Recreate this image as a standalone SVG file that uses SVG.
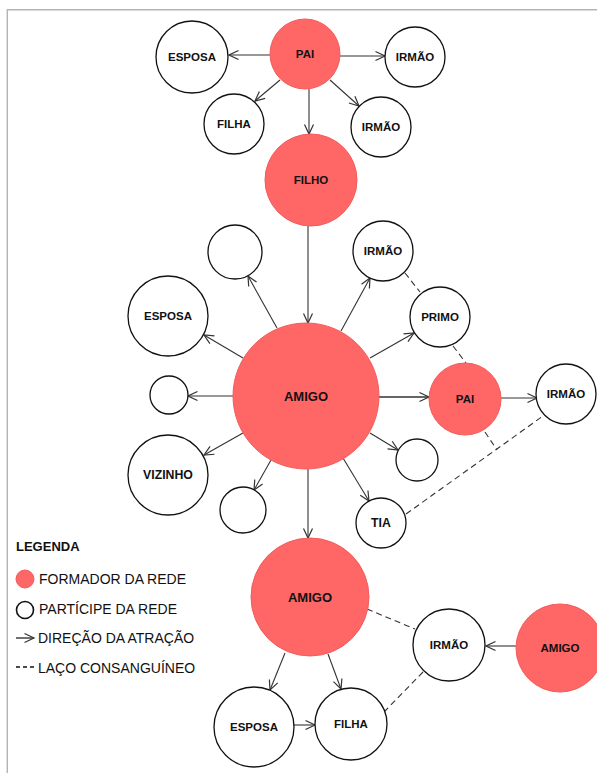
<svg xmlns="http://www.w3.org/2000/svg" width="597" height="773" viewBox="0 0 597 773">
<style>
.bg{fill:#ffffff}
.frame{stroke:#b4b4b4;stroke-width:1.4;fill:none}
.red{fill:#ff6666;stroke:#f25c5c;stroke-width:1}
.white{fill:#ffffff;stroke:#111111;stroke-width:1.3}
.lbl{font-family:"Liberation Sans",Arial,sans-serif;font-weight:bold;font-size:11.5px;fill:#111111;text-anchor:middle;dominant-baseline:central}
.big{font-size:13px}
.arr{stroke:#333333;stroke-width:1.1;fill:none;marker-end:url(#ah)}
.dash{stroke:#333333;stroke-width:1.1;fill:none;stroke-dasharray:6,4}
.leg{font-family:"Liberation Sans",Arial,sans-serif;font-size:14px;fill:#111111}
.legh{font-family:"Liberation Sans",Arial,sans-serif;font-size:13px;font-weight:bold;fill:#111111}
</style>
<defs>
<marker id="ah" markerUnits="userSpaceOnUse" viewBox="-1 -6 12 12" refX="9.5" refY="0" markerWidth="12" markerHeight="12" orient="auto">
<path d="M0,-4.5 L9.5,0 L0,4.5" fill="none" stroke="#333333" stroke-width="1.2"/>
</marker>
</defs>
<rect class="bg" x="0" y="0" width="597" height="773"/>
<path class="frame" d="M7.3,773 V9.7 H597"/>

<g id="connectors">
<line class="arr" x1="270" y1="55" x2="229" y2="55"/>
<line class="arr" x1="340" y1="56" x2="385" y2="56"/>
<line class="arr" x1="280" y1="80" x2="255" y2="101"/>
<line class="arr" x1="309" y1="89" x2="309" y2="134"/>
<line class="arr" x1="330" y1="80" x2="359" y2="106"/>
<line class="arr" x1="308" y1="226" x2="308" y2="323"/>
<line class="arr" x1="277" y1="328" x2="248" y2="276"/>
<line class="arr" x1="341" y1="331" x2="370" y2="278"/>
<line class="arr" x1="243" y1="358" x2="204" y2="335"/>
<line class="arr" x1="370" y1="358" x2="414" y2="333"/>
<line class="arr" x1="233" y1="396" x2="188" y2="396"/>
<line class="arr" x1="379" y1="397" x2="429" y2="397" style="stroke-width:1.5"/>
<line class="arr" x1="243" y1="433" x2="204" y2="455"/>
<line class="arr" x1="271" y1="460" x2="254" y2="490"/>
<line class="arr" x1="370" y1="433" x2="398" y2="450"/>
<line class="arr" x1="343" y1="458" x2="369" y2="501"/>
<line class="arr" x1="308" y1="469" x2="308" y2="538"/>
<line class="arr" x1="501" y1="398" x2="537" y2="398"/>
<line class="dash" x1="405" y1="273" x2="420" y2="292"/>
<line class="dash" x1="453" y1="346" x2="466" y2="363"/>
<line class="dash" x1="485" y1="432" x2="497" y2="450"/>
<line class="dash" x1="406" y1="514" x2="543" y2="416"/>
<line class="arr" x1="285" y1="653" x2="270" y2="690"/>
<line class="arr" x1="328" y1="654" x2="341" y2="689"/>
<line class="arr" x1="294" y1="725" x2="315" y2="725"/>
<line class="arr" x1="516" y1="646" x2="486" y2="646"/>
<line class="dash" x1="367" y1="609" x2="415" y2="629"/>
<line class="dash" x1="423" y1="672" x2="385" y2="711"/>
</g>

<g id="pai-top"><circle class="red" cx="305" cy="54" r="35"/><text class="lbl" x="305" y="54">PAI</text></g>
<g id="esposa-top"><circle class="white" cx="192" cy="57" r="36"/><text class="lbl" x="192" y="57">ESPOSA</text></g>
<g id="irmao-top"><circle class="white" cx="415" cy="57" r="30"/><text class="lbl" x="415" y="57">IRMÃO</text></g>
<g id="filha-top"><circle class="white" cx="234" cy="124" r="30"/><text class="lbl" x="234" y="124">FILHA</text></g>
<g id="irmao-top2"><circle class="white" cx="381" cy="127" r="30"/><text class="lbl" x="381" y="127">IRMÃO</text></g>
<g id="filho"><circle class="red" cx="311" cy="180" r="46"/><text class="lbl" x="311" y="180">FILHO</text></g>

<g id="amigo-center"><circle class="red" cx="306" cy="396" r="73"/><text class="lbl big" x="306" y="396">AMIGO</text></g>
<g id="empty-tl"><circle class="white" cx="235" cy="252" r="27"/></g>
<g id="irmao-mid"><circle class="white" cx="383" cy="251" r="30"/><text class="lbl" x="383" y="251">IRMÃO</text></g>
<g id="esposa-mid"><circle class="white" cx="168" cy="316" r="40"/><text class="lbl" x="168" y="316">ESPOSA</text></g>
<g id="primo"><circle class="white" cx="440" cy="317" r="30"/><text class="lbl" x="440" y="317">PRIMO</text></g>
<g id="empty-l"><circle class="white" cx="169" cy="395" r="19"/></g>
<g id="pai-mid"><circle class="red" cx="465" cy="399" r="36"/><text class="lbl" x="465" y="399">PAI</text></g>
<g id="irmao-right"><circle class="white" cx="566" cy="394" r="30"/><text class="lbl" x="566" y="394">IRMÃO</text></g>
<g id="vizinho"><circle class="white" cx="168" cy="475" r="40"/><text class="lbl" x="168" y="475" style="font-size:12.3px">VIZINHO</text></g>
<g id="empty-bl"><circle class="white" cx="243" cy="510" r="23"/></g>
<g id="empty-r"><circle class="white" cx="417" cy="460" r="21"/></g>
<g id="tia"><circle class="white" cx="381" cy="523" r="25"/><text class="lbl" x="381" y="523" style="font-size:12.3px">TIA</text></g>

<g id="amigo-bottom"><circle class="red" cx="310" cy="597" r="59"/><text class="lbl big" x="310" y="597">AMIGO</text></g>
<g id="irmao-bottom"><circle class="white" cx="449" cy="645" r="36"/><text class="lbl" x="449" y="645">IRMÃO</text></g>
<g id="amigo-right"><circle class="red" cx="560" cy="648" r="44"/><text class="lbl" x="560" y="648">AMIGO</text></g>
<g id="esposa-bottom"><circle class="white" cx="254" cy="727" r="40"/><text class="lbl" x="254" y="727">ESPOSA</text></g>
<g id="filha-bottom"><circle class="white" cx="351" cy="724" r="36"/><text class="lbl" x="351" y="724">FILHA</text></g>

<g id="legend">
<text class="legh" x="16" y="551">LEGENDA</text>
<circle class="red" cx="25" cy="579" r="9"/>
<text class="leg" x="39" y="584">FORMADOR DA REDE</text>
<circle cx="25" cy="610" r="8.5" fill="#ffffff" stroke="#111111" stroke-width="1.6"/>
<text class="leg" x="39" y="614">PARTÍCIPE DA REDE</text>
<line x1="16" y1="638" x2="34" y2="638" stroke="#111111" stroke-width="1.2" marker-end="url(#ah)"/>
<text class="leg" x="38" y="643">DIREÇÃO DA ATRAÇÃO</text>
<line x1="16" y1="667" x2="35" y2="667" stroke="#111111" stroke-width="1.3" stroke-dasharray="4,3"/>
<text class="leg" x="38" y="673">LAÇO CONSANGUÍNEO</text>
</g>
</svg>
